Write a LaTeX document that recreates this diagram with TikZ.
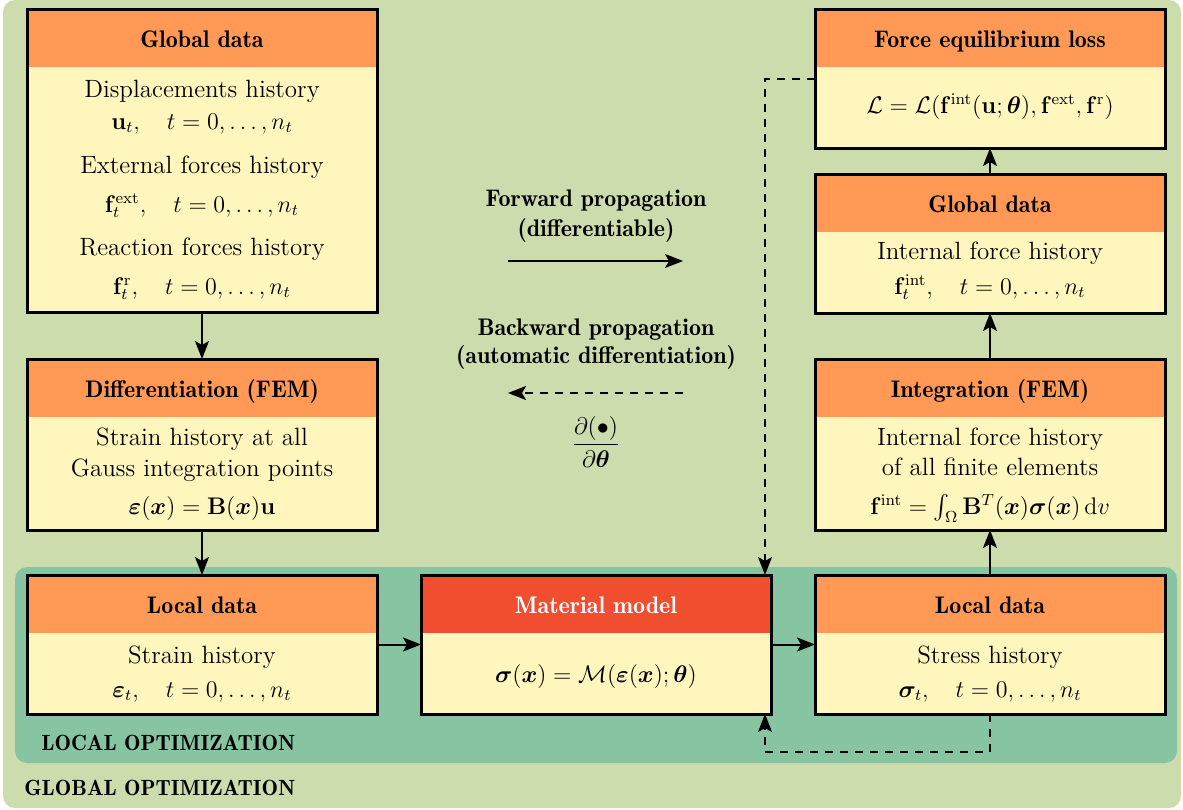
\documentclass[tikz,border=0pt]{standalone}
\usepackage{amsmath}
\usepackage{bm}
\usetikzlibrary{arrows.meta}
\definecolor{gbg}{HTML}{CCDCAC}
\definecolor{lbg}{HTML}{87C4A2}
\definecolor{hdrc}{HTML}{FF9955}
\definecolor{redc}{HTML}{F04E2F}
\definecolor{bodyc}{HTML}{FFF6BE}
\tikzset{
  boxbody/.style={fill=bodyc, minimum width=175pt, inner sep=0pt, outer sep=0pt, anchor=north west},
  boxline/.style={draw=black, line width=1.5pt},
  hdrtxt/.style={font=\fontsize{12}{14}\fontseries{b}\selectfont, anchor=base, inner sep=0pt},
  txt/.style={font=\fontsize{12.5}{14}\selectfont, anchor=base, inner sep=0pt},
  mtxt/.style={font=\fontsize{11.5}{14}\selectfont, anchor=base, inner sep=0pt},
  lbl/.style={font=\fontsize{11}{13}\fontseries{b}\selectfont, anchor=base west, inner sep=0pt},
  arr/.style={line width=1pt, -{Stealth[length=9pt,width=7pt,inset=2pt]}},
  darr/.style={line width=1pt, dash pattern=on 4pt off 3.5pt, -{Stealth[length=9pt,width=7pt,inset=2pt]}},
}
\newcommand{\mybox}[6]{%
  \node[boxbody, minimum height=#4*0.5pt] (#1) at (#2,#3) {};
  \fill[#5] (#1.north west) rectangle ([yshift=-29pt]#1.north east);
  \draw[boxline] (#1.north west) rectangle (#1.south east);
  \node[hdrtxt] at ([yshift=-19pt]#1.north) {#6};
}
\begin{document}
\begin{tikzpicture}[x=0.5pt,y=-0.5pt]
\useasboundingbox (0,0) rectangle (1183,809);
\fill[gbg, rounded corners=6pt] (3,0) rectangle (1181,808);
\fill[lbg, rounded corners=6pt] (15,567) rectangle (1177,763);

\mybox{gd1}{27}{9}{303}{hdrc}{Global data}
\mybox{dif}{27}{359}{171}{hdrc}{Differentiation (FEM)}
\mybox{ld1}{27}{575}{139}{hdrc}{Local data}
\mybox{mm}{421}{575}{139}{redc}{\color{white}Material model}
\mybox{ld2}{815}{575}{139}{hdrc}{Local data}
\mybox{int}{815}{359}{171}{hdrc}{Integration (FEM)}
\mybox{gd2}{815}{174}{139}{hdrc}{Global data}
\mybox{fl}{815}{9}{139}{hdrc}{Force equilibrium loss}

% left column texts
\node[txt] (t1) at (202,97) {Displacements history};
\node[mtxt] (t2) at (202,129) {$\mathbf{u}_t,\quad t=0,\dots,n_t$};
\node[txt] (t3) at (202,173) {External forces history};
\node[mtxt] (t4) at (202,212) {$\mathbf{f}_t^{\mathrm{ext}},\quad t=0,\dots,n_t$};
\node[txt] (t5) at (202,255) {Reaction forces history};
\node[mtxt] (t6) at (202,294) {$\mathbf{f}_t^{\mathrm{r}},\quad t=0,\dots,n_t$};

\node[txt] (t7) at (202,445) {Strain history at all};
\node[txt] (t8) at (202,476) {Gauss integration points};
\node[mtxt] (t9) at (202,514) {$\bm{\varepsilon}(\bm{x})=\mathbf{B}(\bm{x})\mathbf{u}$};

\node[txt] (t10) at (202,663) {Strain history};
\node[mtxt] (t11) at (202,697) {$\bm{\varepsilon}_t,\quad t=0,\dots,n_t$};

% middle
\node[mtxt] (t12) at (596,682) {$\bm{\sigma}(\bm{x})=\mathcal{M}(\bm{\varepsilon}(\bm{x});\bm{\theta})$};

% right column texts
\node[txt] (t13) at (990,663) {Stress history};
\node[mtxt] (t14) at (990,697) {$\bm{\sigma}_t,\quad t=0,\dots,n_t$};

\node[txt] (t15) at (990,445) {Internal force history};
\node[txt] (t16) at (990,475) {of all finite elements};
\node[mtxt] (t17) at (990,514) {$\mathbf{f}^{\mathrm{int}}=\int_\Omega\mathbf{B}^T(\bm{x})\bm{\sigma}(\bm{x})\,\mathrm{d}v$};

\node[txt] (t18) at (990,259) {Internal force history};
\node[mtxt] (t19) at (990,294) {$\mathbf{f}_t^{\mathrm{int}},\quad t=0,\dots,n_t$};

\node[mtxt] (t20) at (990,113) {$\mathcal{L}=\mathcal{L}(\mathbf{f}^{\mathrm{int}}(\mathbf{u};\bm{\theta}),\mathbf{f}^{\mathrm{ext}},\mathbf{f}^{\mathrm{r}})$};

% legend
\node[hdrtxt] (l1) at (596,206) {Forward propagation};
\node[hdrtxt] (l2) at (596,236) {(differentiable)};
\coordinate (fa1) at (508,261);
\coordinate (fa2) at (683,261);
\draw[arr] (fa1) -- (fa2);
\node[hdrtxt] (l3) at (596,335) {Backward propagation};
\node[hdrtxt] (l4) at (596,363) {(automatic differentiation)};
\coordinate (ba1) at (683,393);
\coordinate (ba2) at (508,393);
\draw[darr] (ba1) -- (ba2);
\node[font=\fontsize{12}{14}\selectfont, inner sep=0pt] (fr) at (596,442) {$\dfrac{\partial(\bullet)}{\partial\bm{\theta}}$};

% region labels
\node[lbl] (lo) at (41,750) {LOCAL OPTIMIZATION};
\node[lbl] (go) at (24,795) {GLOBAL OPTIMIZATION};

% connectors
\draw[arr] (gd1.south) -- (dif.north);
\draw[arr] (dif.south) -- (ld1.north);
\draw[arr] (ld1.east) -- (mm.west);
\draw[arr] (mm.east) -- (ld2.west);
\draw[arr] (ld2.north) -- (int.south);
\draw[arr] (int.north) -- (gd2.south);
\draw[arr] (gd2.north) -- (fl.south);
\coordinate (k1) at ([xshift=-3pt]mm.north east);
\coordinate (k2) at ([xshift=-3pt]mm.south east);
\draw[darr] (fl.west) -| (k1);
\draw[darr] (ld2.south) |- ([yshift=-19pt]k2) -- (k2);
\end{tikzpicture}
\end{document}
